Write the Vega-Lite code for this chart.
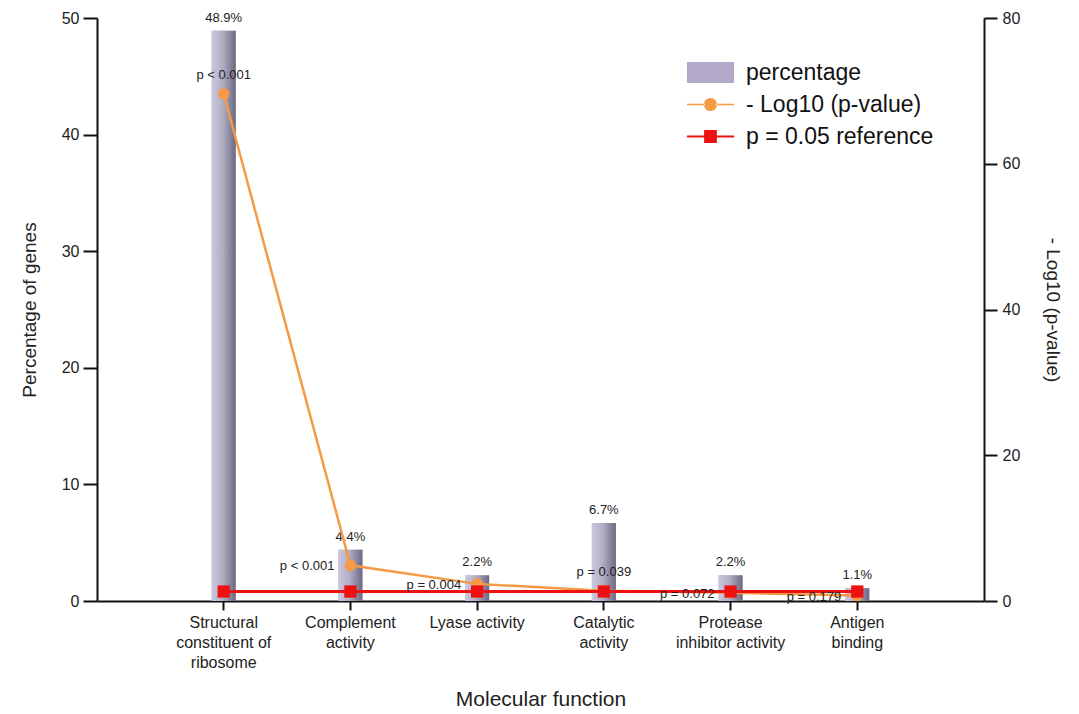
{
  "$schema": "https://vega.github.io/schema/vega-lite/v6.json",
  "width": 887,
  "height": 583,
  "autosize": "none",
  "padding": {"left": 97, "top": 18, "right": 95, "bottom": 113},
  "background": "white",
  "config": {
    "view": {"stroke": null},
    "font": "Liberation Sans",
    "axis": {"labelFont": "Liberation Sans", "titleFont": "Liberation Sans", "titleFontWeight": "normal", "labelColor": "#222", "titleColor": "#222", "domainColor": "#111", "tickColor": "#111", "domainWidth": 2, "tickWidth": 2, "grid": false},
    "legend": {"labelFont": "Liberation Sans"}
  },
  "data": {
    "values": [
      {"category": "Structural constituent of ribosome", "percentage": 48.9, "pct_label": "48.9%", "neglog": 69.6, "p_label": "p < 0.001", "ref": 1.3},
      {"category": "Complement activity", "percentage": 4.4, "pct_label": "4.4%", "neglog": 4.9, "p_label": "p < 0.001", "ref": 1.3},
      {"category": "Lyase activity", "percentage": 2.2, "pct_label": "2.2%", "neglog": 2.35, "p_label": "p = 0.004", "ref": 1.3},
      {"category": "Catalytic activity", "percentage": 6.7, "pct_label": "6.7%", "neglog": 1.41, "p_label": "p = 0.039", "ref": 1.3},
      {"category": "Protease inhibitor activity", "percentage": 2.2, "pct_label": "2.2%", "neglog": 1.14, "p_label": "p = 0.072", "ref": 1.3},
      {"category": "Antigen binding", "percentage": 1.1, "pct_label": "1.1%", "neglog": 0.75, "p_label": "p = 0.179", "ref": 1.3}
    ]
  },
  "encoding": {
    "x": {
      "field": "category",
      "type": "nominal",
      "sort": null,
      "scale": {"type": "band", "paddingInner": 0.8, "paddingOuter": 0.9},
      "axis": {
        "title": "Molecular function",
        "titleFontSize": 21,
        "titlePadding": 18,
        "labelFontSize": 16,
        "labelAngle": 0,
        "labelLineHeight": 20,
        "labelPadding": 4,
        "tickSize": 9,
        "labelLimit": 300,
        "labelExpr": "datum.value == 'Structural constituent of ribosome' ? ['Structural', 'constituent of', 'ribosome'] : datum.value == 'Complement activity' ? ['Complement', 'activity'] : datum.value == 'Catalytic activity' ? ['Catalytic', 'activity'] : datum.value == 'Protease inhibitor activity' ? ['Protease', 'inhibitor activity'] : datum.value == 'Antigen binding' ? ['Antigen', 'binding'] : datum.value"
      }
    },
    "color": {
      "scale": {"domain": ["percentage", "- Log10 (p-value)", "p = 0.05 reference"], "range": ["#b3aacb", "#f59a45", "#ee1111"]},
      "legend": {
        "title": null,
        "orient": "none",
        "legendX": 602,
        "legendY": 43,
        "padding": 0,
        "symbolSize": 484,
        "labelFontSize": 23,
        "labelColor": "#111",
        "labelOffset": 24,
        "labelLimit": 400,
        "rowPadding": 8,
        "symbolStrokeWidth": 0,
        "encode": {
          "symbols": {
            "update": {
              "shape": {"signal": "datum.value == 'percentage' ? 'M-2.14,-0.95H2.14V0.95H-2.14Z' : datum.value == '- Log10 (p-value)' ? 'M-2.14,-0.07H-0.5V0.07H-2.14Z M0.5,-0.07H2.14V0.07H0.5Z M-0.6,0A0.6,0.6 0 1,0 0.6,0A0.6,0.6 0 1,0 -0.6,0Z' : 'M-2.14,-0.09H-0.55V0.09H-2.14Z M0.55,-0.09H2.14V0.09H0.55Z M-0.58,-0.58H0.58V0.58H-0.58Z'"},
              "fill": {"signal": "datum.value == 'percentage' ? '#b3aacb' : datum.value == '- Log10 (p-value)' ? '#f59a45' : '#ee1111'"},
              "stroke": {"value": "transparent"},
              "strokeWidth": {"value": 0},
              "opacity": {"value": 1}
            }
          }
        }
      }
    }
  },
  "layer": [
    {
      "encoding": {
        "y": {
          "field": "percentage",
          "type": "quantitative",
          "title": "Percentage of genes",
          "scale": {"domain": [0, 50], "nice": false},
          "axis": {"orient": "left", "values": [0, 10, 20, 30, 40, 50], "labelFontSize": 16, "titleFontSize": 19, "tickSize": 14, "labelPadding": 4, "titlePadding": 22}
        }
      },
      "layer": [
        {
          "mark": {"type": "bar", "size": 24},
          "encoding": {"color": {"datum": "percentage"}}
        },
        {
          "mark": {
            "type": "bar",
            "size": 24,
            "fill": {"gradient": "linear", "x1": 0, "y1": 0, "x2": 1, "y2": 0, "stops": [{"offset": 0, "color": "#cbc7de"}, {"offset": 0.45, "color": "#b2aec6"}, {"offset": 1, "color": "#6c6880"}]}
          }
        },
        {
          "mark": {"type": "text", "baseline": "bottom", "dy": -6, "fontSize": 13, "color": "#222"},
          "encoding": {"text": {"field": "pct_label"}}
        }
      ]
    },
    {
      "layer": [
        {
          "mark": {"type": "line", "strokeWidth": 2.5, "point": {"filled": true, "size": 135, "shape": "circle", "opacity": 1}},
          "encoding": {
            "y": {
              "field": "neglog",
              "type": "quantitative",
              "title": "- Log10 (p-value)",
              "scale": {"domain": [0, 80], "nice": false},
              "axis": {"orient": "right", "values": [0, 20, 40, 60, 80], "labelFontSize": 16, "titleFontSize": 19, "tickSize": 13, "labelPadding": 5, "titlePadding": 23}
            },
            "color": {"datum": "- Log10 (p-value)"}
          }
        },
        {
          "mark": {"type": "line", "strokeWidth": 3, "point": {"filled": true, "size": 150, "shape": "square", "opacity": 1}},
          "encoding": {
            "y": {"field": "ref", "type": "quantitative", "title": "- Log10 (p-value)"},
            "color": {"datum": "p = 0.05 reference"}
          }
        },
        {
          "transform": [{"filter": "datum.category == 'Structural constituent of ribosome' || datum.category == 'Catalytic activity'"}],
          "mark": {"type": "text", "baseline": "middle", "dy": -19, "fontSize": 13, "color": "#222"},
          "encoding": {
            "y": {"field": "neglog", "type": "quantitative", "title": "- Log10 (p-value)"},
            "text": {"field": "p_label"}
          }
        },
        {
          "transform": [{"filter": "datum.category != 'Structural constituent of ribosome' && datum.category != 'Catalytic activity'"}],
          "mark": {"type": "text", "baseline": "middle", "align": "right", "dx": -16, "dy": 1, "fontSize": 13, "color": "#222"},
          "encoding": {
            "y": {"field": "neglog", "type": "quantitative", "title": "- Log10 (p-value)"},
            "text": {"field": "p_label"}
          }
        }
      ]
    }
  ],
  "resolve": {"scale": {"y": "independent"}}
}
